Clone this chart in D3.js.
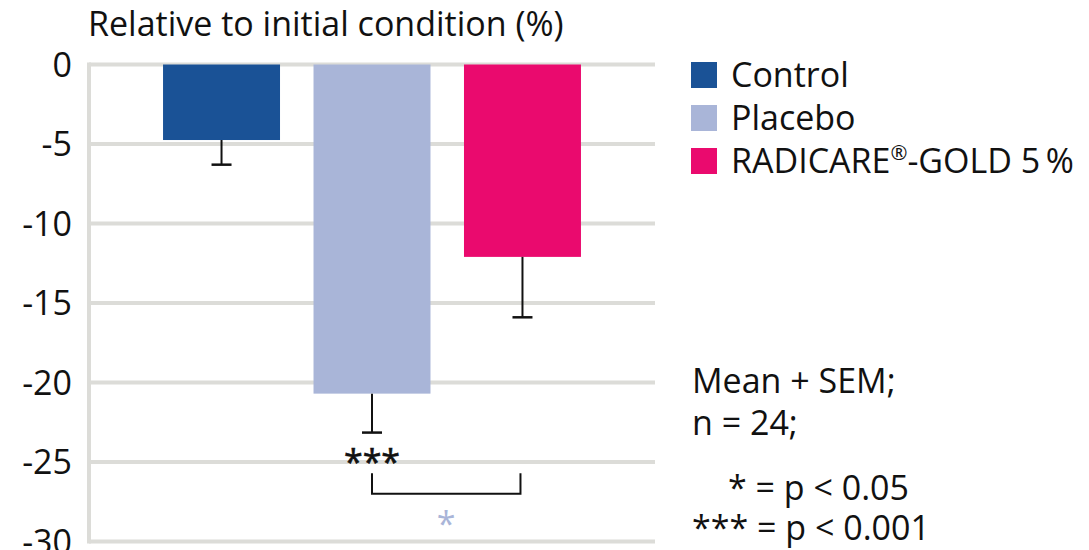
<!DOCTYPE html>
<html><head><meta charset="utf-8">
<script src="https://cdn.jsdelivr.net/npm/d3@7"></script>
<style>body{margin:0;background:#fff}svg{display:block}text{font-family:"Open Sans",sans-serif;fill:#111}</style>
</head><body><svg id="c" width="1089" height="550"></svg>
<script>
const categories = ["Control", "Placebo", "RADICARE®-GOLD 5\u2009%"];
const means = [-4.75, -20.7, -12.1];
const sems = [1.55, 2.45, 3.8];
const colors = ["#1a5296", "#a9b5d8", "#ea0a6e"];
const yTicks = [0, -5, -10, -15, -20, -25, -30];
const notes = ["Mean + SEM;", "n = 24;"];
const sigNotes = ["* = p < 0.05", "*** = p < 0.001"];

const svg = d3.select("#c");
const fs = 34;
const y = d3.scaleLinear().domain([0, -30]).range([64.5, 541.5]);
const x = d3.scaleBand().domain(categories).range([89, 655]).paddingInner(0.2226).paddingOuter(0.492);

// gridlines
svg.append("g").selectAll("line").data(yTicks).join("line")
  .attr("x1", 89).attr("x2", 655).attr("y1", d => y(d)).attr("y2", d => y(d))
  .attr("stroke", "#dcdcd8").attr("stroke-width", 4);
svg.append("line").attr("x1", 89).attr("x2", 89).attr("y1", y(0) - 2).attr("y2", y(-30) + 2)
  .attr("stroke", "#dcdcd8").attr("stroke-width", 4);

// tick labels
const yAxis = d3.axisLeft(y).tickValues(yTicks).tickSize(0).tickPadding(0).tickFormat(d => String(d));
const ga = svg.append("g").attr("transform", "translate(72,0)").call(yAxis);
ga.select(".domain").remove();
ga.selectAll("text").attr("font-size", fs).attr("font-family", "Open Sans").attr("fill", "#111").attr("dy", "0.35em");

// bars
svg.append("g").selectAll("rect").data(categories).join("rect")
  .attr("x", d => x(d)).attr("width", x.bandwidth())
  .attr("y", y(0)).attr("height", (d, i) => y(means[i]) - y(0))
  .attr("fill", (d, i) => colors[i]);

// error bars
const eb = svg.append("g").attr("stroke", "#111").attr("stroke-width", 2);
categories.forEach((c, i) => {
  const cx = x(c) + x.bandwidth() / 2;
  eb.append("line").attr("x1", cx).attr("x2", cx).attr("y1", y(means[i])).attr("y2", y(means[i] - sems[i]));
  eb.append("line").attr("x1", cx - 10).attr("x2", cx + 10).attr("y1", y(means[i] - sems[i])).attr("y2", y(means[i] - sems[i])).attr("stroke-width", 2.5);
});

// significance
const pc = x(categories[1]) + x.bandwidth() / 2;
const rc = x(categories[2]) + x.bandwidth() / 2 - 2;
svg.append("text").attr("x", pc).attr("y", 474).attr("text-anchor", "middle").attr("font-size", fs)
  .style("stroke", "#111").style("stroke-width", 0.6).text("***");
svg.append("path").attr("d", `M${pc},${y(-25.7)}V${y(-27)}H${rc}V${y(-25.7)}`)
  .attr("fill", "none").attr("stroke", "#111").attr("stroke-width", 2);
svg.append("text").attr("x", (pc + rc) / 2).attr("y", 536).attr("text-anchor", "middle").attr("font-size", fs)
  .style("fill", colors[1]).text("*");

// title
svg.append("text").attr("x", 88).attr("y", 36).attr("font-size", fs).text("Relative to initial condition (%)");

// legend
const lg = svg.append("g");
categories.forEach((c, i) => {
  lg.append("rect").attr("x", 691).attr("y", 62 + i * 43).attr("width", 26).attr("height", 26).attr("fill", colors[i]);
  const t = lg.append("text").attr("x", 731).attr("y", 87 + i * 43).attr("font-size", fs);
  const parts = c.split("®");
  t.append("tspan").text(parts[0]);
  if (parts.length > 1) {
    t.append("tspan").attr("font-size", fs * 0.6).attr("dy", -13).text("®");
    t.append("tspan").attr("dy", 13).text(parts[1]);
  }
});

// notes
notes.forEach((t, i) => svg.append("text").attr("x", 692).attr("y", 393 + i * 42).attr("font-size", fs).text(t));
svg.append("text").attr("x", 728).attr("y", 500).attr("font-size", fs).text(sigNotes[0]);
svg.append("text").attr("x", 692).attr("y", 540).attr("font-size", fs).text(sigNotes[1]);
</script></body></html>
